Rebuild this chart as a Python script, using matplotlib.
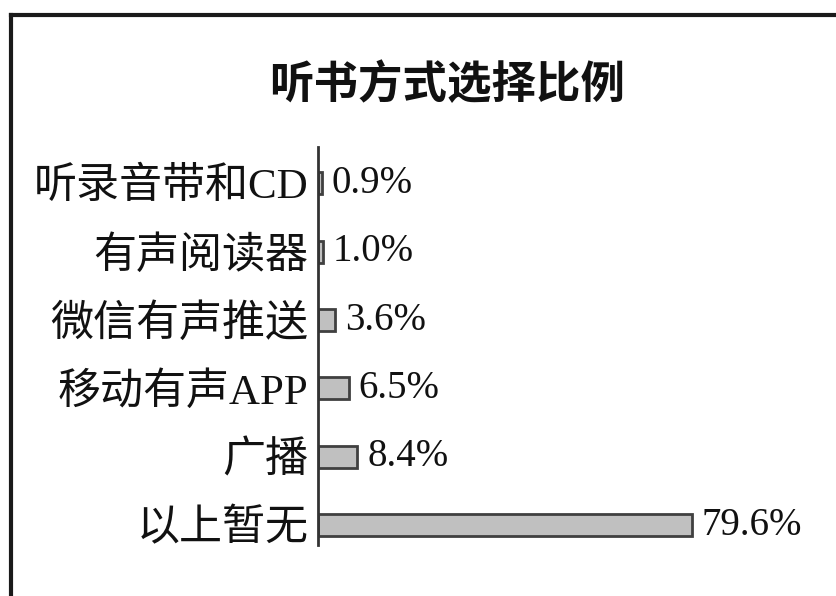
import matplotlib
matplotlib.use("Agg")
import matplotlib.pyplot as plt
from matplotlib.lines import Line2D

categories = ["听录音带和CD", "有声阅读器", "微信有声推送", "移动有声APP", "广播", "以上暂无"]
values = [0.9, 1.0, 3.6, 6.5, 8.4, 79.6]
value_labels = ["0.9%", "1.0%", "3.6%", "6.5%", "8.4%", "79.6%"]
title = "听书方式选择比例"

fam = ["Liberation Serif", "Noto Sans CJK SC", "DejaVu Sans"]
plt.rcParams["font.family"] = fam

W, H = 837, 596
fig = plt.figure(figsize=(W / 100, H / 100), dpi=100)

# figure frame (top and left edges visible)
fig.add_artist(Line2D([11 / W, 1.0], [1 - 15 / H, 1 - 15 / H], color="#1a1a1a", lw=3, transform=fig.transFigure))
fig.add_artist(Line2D([11 / W, 11 / W], [0.0, 1 - 15 / H], color="#1a1a1a", lw=3, transform=fig.transFigure))

left = 318 / W
top = 147 / H
bottom = 545 / H
px_per_pct = 4.7
width_px = px_per_pct * 100
ax = fig.add_axes([left, 1 - bottom, width_px / W, (bottom - top)])

ypos = list(range(len(categories)))
ax.barh(ypos, values, height=0.32, color="#c0c0c0", edgecolor="#404040", linewidth=2)
ax.set_xlim(0, 100)
ax.set_ylim(5.29, -0.53)

for y, v, lab in zip(ypos, values, value_labels):
    ax.annotate(lab, xy=(v, y), xytext=(7, 0), textcoords="offset points",
                ha="left", va="center", fontsize=28, color="#111111", family=fam)

ax.set_yticks(ypos)
ax.set_yticklabels(categories, fontsize=31, color="#111111")
ax.tick_params(axis="y", length=0, pad=7)
ax.set_xticks([])
for s in ["top", "right", "bottom"]:
    ax.spines[s].set_visible(False)
ax.spines["left"].set_linewidth(2)
ax.spines["left"].set_color("#333333")
ax.patch.set_alpha(0)

fig.text(447 / W, 1 - 85 / H, title, ha="center", va="center", fontsize=32,
         fontweight="bold", family=["Noto Sans CJK SC", "DejaVu Sans"], color="#111111")

fig.savefig("out.png", dpi=100)
